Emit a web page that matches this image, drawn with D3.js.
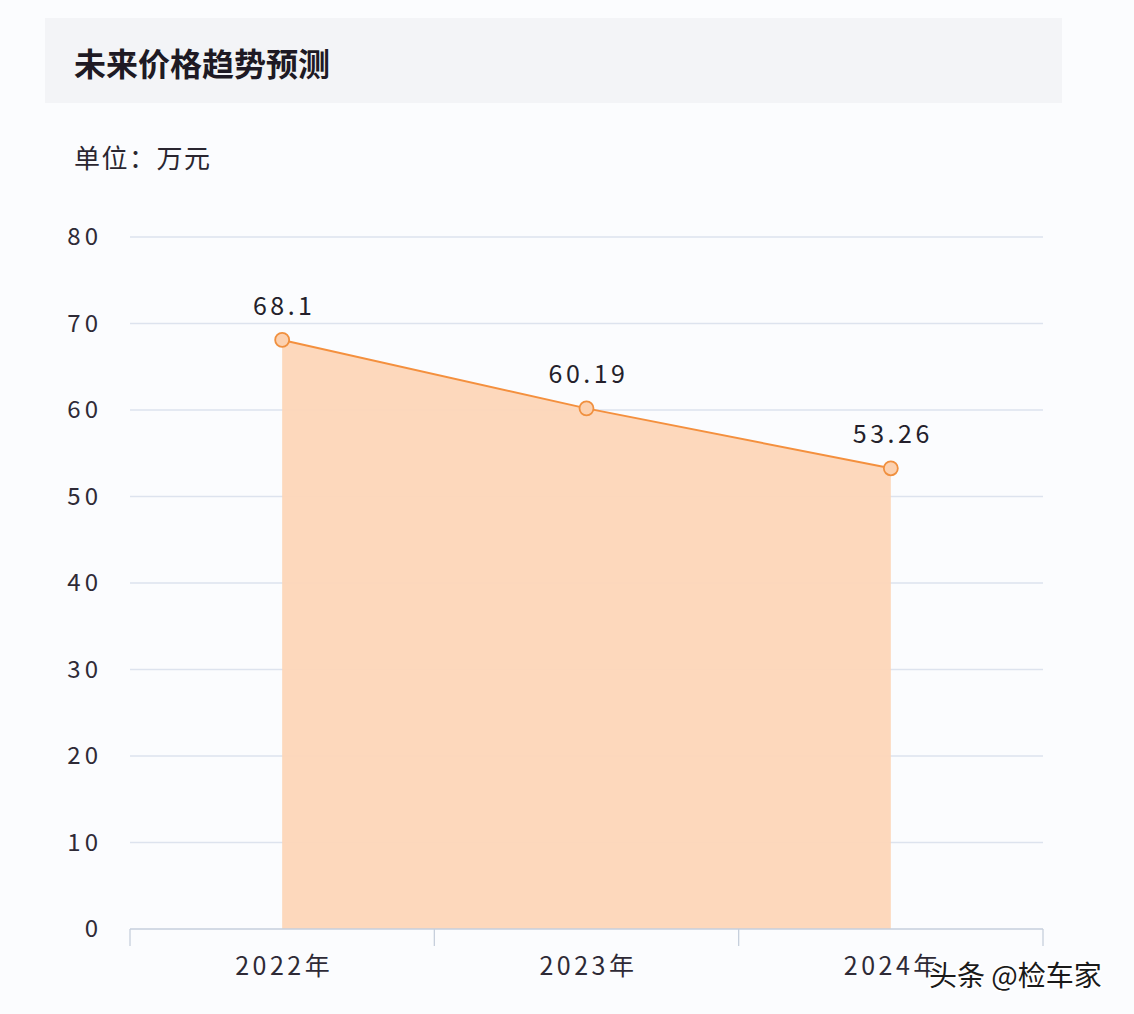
<!doctype html>
<html>
<head>
<meta charset="UTF-8">
<title>未来价格趋势预测</title>
<script src="https://cdn.jsdelivr.net/npm/d3@7"></script>
<style>
  body { margin: 0; background: #fbfcfe; }
  text { font-family: "Noto Sans CJK SC", "Noto Sans", sans-serif; }
</style>
</head>
<body>
<script>
  var years = ["2022年", "2023年", "2024年"];
  var prices = [68.1, 60.19, 53.26];
  var priceLabels = ["68.1", "60.19", "53.26"];
  var yTicks = [0, 10, 20, 30, 40, 50, 60, 70, 80];

  var W = 1134, H = 1014;
  var svg = d3.select("body").append("svg")
      .attr("width", W).attr("height", H);

  svg.append("rect").attr("width", W).attr("height", H).attr("fill", "#fbfcfe");

  // title panel
  svg.append("rect")
    .attr("x", 45).attr("y", 18).attr("width", 1017).attr("height", 85)
    .attr("fill", "#f3f4f7");
  svg.append("text")
    .attr("x", 74).attr("y", 76)
    .attr("font-size", 32).attr("font-weight", "bold").attr("fill", "#1e1a24")
    .text("未来价格趋势预测");

  svg.append("text")
    .attr("x", 74).attr("y", 168)
    .attr("font-size", 26).attr("fill", "#2a2630")
    .attr("letter-spacing", 1.5)
    .text("单位：万元");

  var x = d3.scaleBand().domain(years).range([130, 1043]);
  var y = d3.scaleLinear().domain([0, 80]).range([929, 237]);

  // grid
  svg.append("g").selectAll("line").data(yTicks.filter(function(d){ return d > 0; }))
    .enter().append("line")
    .attr("x1", 130).attr("x2", 1043)
    .attr("y1", function(d){ return y(d); }).attr("y2", function(d){ return y(d); })
    .attr("stroke", "#dde3ee").attr("stroke-width", 1.3);

  // y labels
  svg.append("g").selectAll("text").data(yTicks)
    .enter().append("text")
    .attr("x", 102).attr("y", function(d){ return y(d) + 8; })
    .attr("text-anchor", "end")
    .attr("font-size", 24).attr("fill", "#2e2a36")
    .attr("letter-spacing", 4)
    .text(function(d){ return d; });

  var pts = years.map(function(d, i){
    return { x: x(d) + x.bandwidth() / 2, y: y(prices[i]), v: prices[i], l: priceLabels[i] };
  });

  var area = d3.area()
    .x(function(d){ return d.x; })
    .y0(y(0))
    .y1(function(d){ return d.y; });
  svg.append("path").datum(pts)
    .attr("d", area)
    .attr("fill", "#fdd6b8").attr("opacity", 0.95);

  var line = d3.line().x(function(d){ return d.x; }).y(function(d){ return d.y; });
  svg.append("path").datum(pts)
    .attr("d", line)
    .attr("fill", "none").attr("stroke", "#f4903e").attr("stroke-width", 2);

  // x axis
  svg.append("line")
    .attr("x1", 130).attr("x2", 1043).attr("y1", y(0)).attr("y2", y(0))
    .attr("stroke", "#c6cfdc").attr("stroke-width", 1.3);
  var edges = [130].concat(years.map(function(d){ return x(d) + x.bandwidth(); }));
  svg.append("g").selectAll("line").data(edges)
    .enter().append("line")
    .attr("x1", function(d){ return d; }).attr("x2", function(d){ return d; })
    .attr("y1", y(0)).attr("y2", y(0) + 17)
    .attr("stroke", "#c6cfdc").attr("stroke-width", 1.3);

  svg.append("g").selectAll("text").data(years)
    .enter().append("text")
    .attr("x", function(d){ return x(d) + x.bandwidth() / 2 + 2; })
    .attr("y", 975)
    .attr("text-anchor", "middle")
    .attr("font-size", 25).attr("fill", "#2e2a36")
    .attr("letter-spacing", 3.5)
    .text(function(d){ return d; });

  // points
  svg.append("g").selectAll("circle").data(pts)
    .enter().append("circle")
    .attr("cx", function(d){ return d.x; }).attr("cy", function(d){ return d.y; })
    .attr("r", 7)
    .attr("fill", "#fcd1b0").attr("stroke", "#f0903f").attr("stroke-width", 1.8);

  svg.append("g").selectAll("text").data(pts)
    .enter().append("text")
    .attr("x", function(d){ return d.x + 2; })
    .attr("y", function(d){ return d.y - 25; })
    .attr("text-anchor", "middle")
    .attr("font-size", 25).attr("fill", "#241f2b")
    .attr("letter-spacing", 3.5)
    .text(function(d){ return d.l; });

  // watermark
  svg.append("text")
    .attr("x", 929).attr("y", 986)
    .attr("font-size", 28).attr("fill", "#1a1a1a")
    .attr("stroke", "#ffffff").attr("stroke-width", 3).attr("paint-order", "stroke")
    .text("头条 @检车家");
</script>
</body>
</html>
